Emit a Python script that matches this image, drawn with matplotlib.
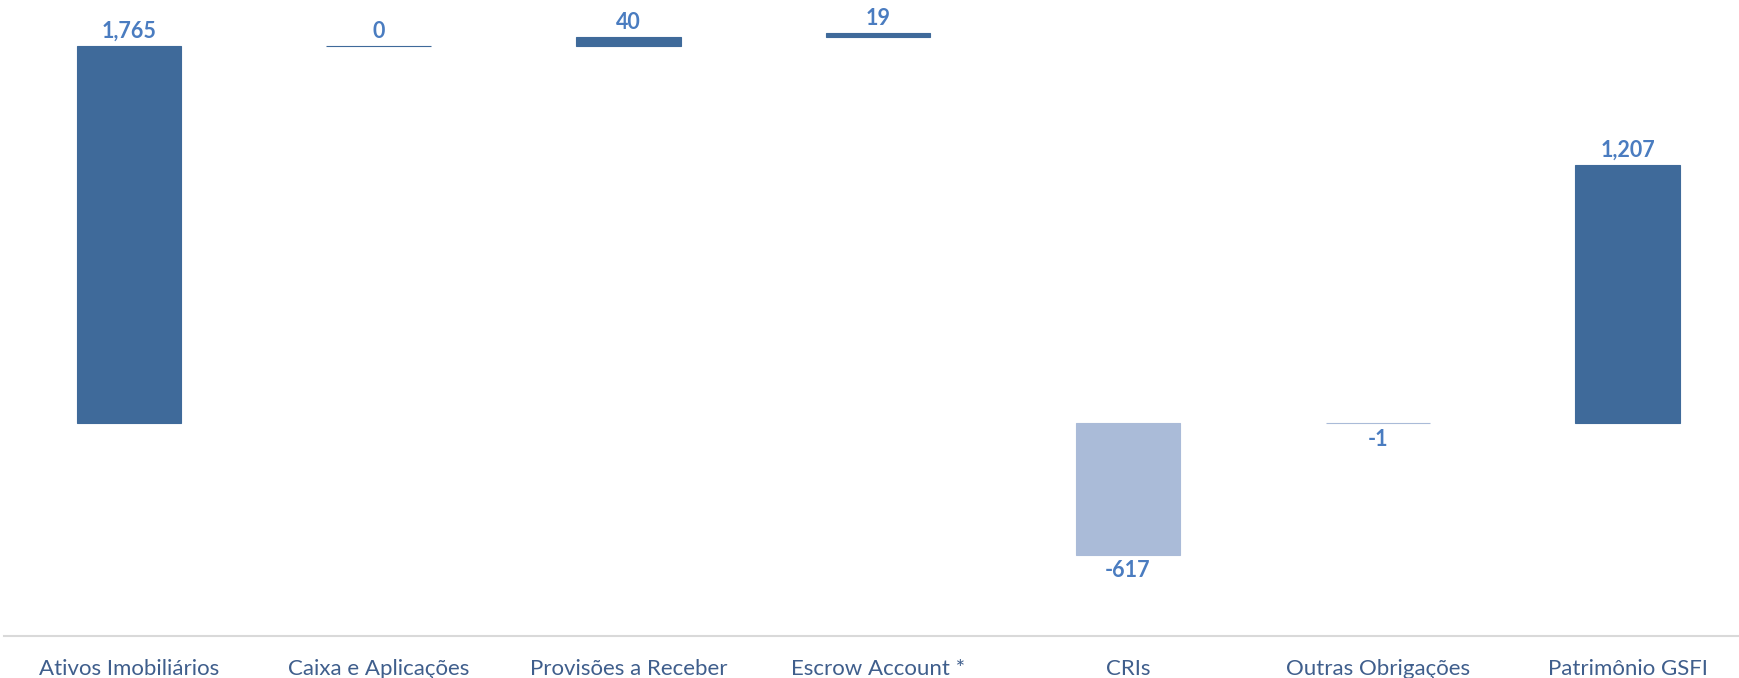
import numpy as np
import matplotlib
matplotlib.use('Agg')
import matplotlib.pyplot as plt

categorias = ['Ativos Imobiliários', 'Caixa e Aplicações', 'Provisões a Receber',
              'Escrow Account *', 'CRIs', 'Outras Obrigações', 'Patrimônio GSFI']
valores = [1765, 0, 40, 19, -617, -1, 1207]
tipos = ['total', 'inc', 'inc', 'inc', 'dec', 'dec', 'total']

# bases do waterfall (como no original: negativos partem do zero)
bases = []
acum = 0
for v, t in zip(valores, tipos):
    if t == 'total':
        bases.append(0)
        acum = v
    elif t == 'inc':
        bases.append(acum)
        acum += v
    else:
        bases.append(0)

escuro = '#3F6A9A'
claro = '#AABBD8'
cores = [claro if t == 'dec' else escuro for t in tipos]

plt.rcParams['font.family'] = ['Lato', 'DejaVu Sans']

fig = plt.figure(figsize=(17.4, 6.78), dpi=100)
ax = fig.add_axes([0.0022, 0.0615, 1.0050, 0.945])

x = np.arange(len(categorias))
ax.bar(x, valores, bottom=bases, width=0.418, color=cores, edgecolor=cores, linewidth=0.8)

for xi, v, b in zip(x, valores, bases):
    txt = f'{v:,}'
    if v >= 0:
        ax.annotate(txt, (xi, b + v), xytext=(0, 3), textcoords='offset points',
                    ha='center', va='bottom', fontsize=15.5, fontweight='bold', color='#4A7CC0')
    else:
        ax.annotate(txt, (xi, b + v), xytext=(0, -4), textcoords='offset points',
                    ha='center', va='top', fontsize=15.5, fontweight='bold', color='#4A7CC0')

ax.set_xlim(-0.5, 6.5)
ax.set_ylim(-1000, 2000)
ax.set_xticks(x)
ax.set_xticklabels(categorias, fontsize=16, color='#3F5E8C')
ax.tick_params(axis='x', length=0, pad=16)
ax.set_yticks([])
for s in ['top', 'right', 'left']:
    ax.spines[s].set_visible(False)
ax.spines['bottom'].set_color('#D9D9D9')
ax.spines['bottom'].set_linewidth(1.5)

fig.savefig('out.png', dpi=100)
